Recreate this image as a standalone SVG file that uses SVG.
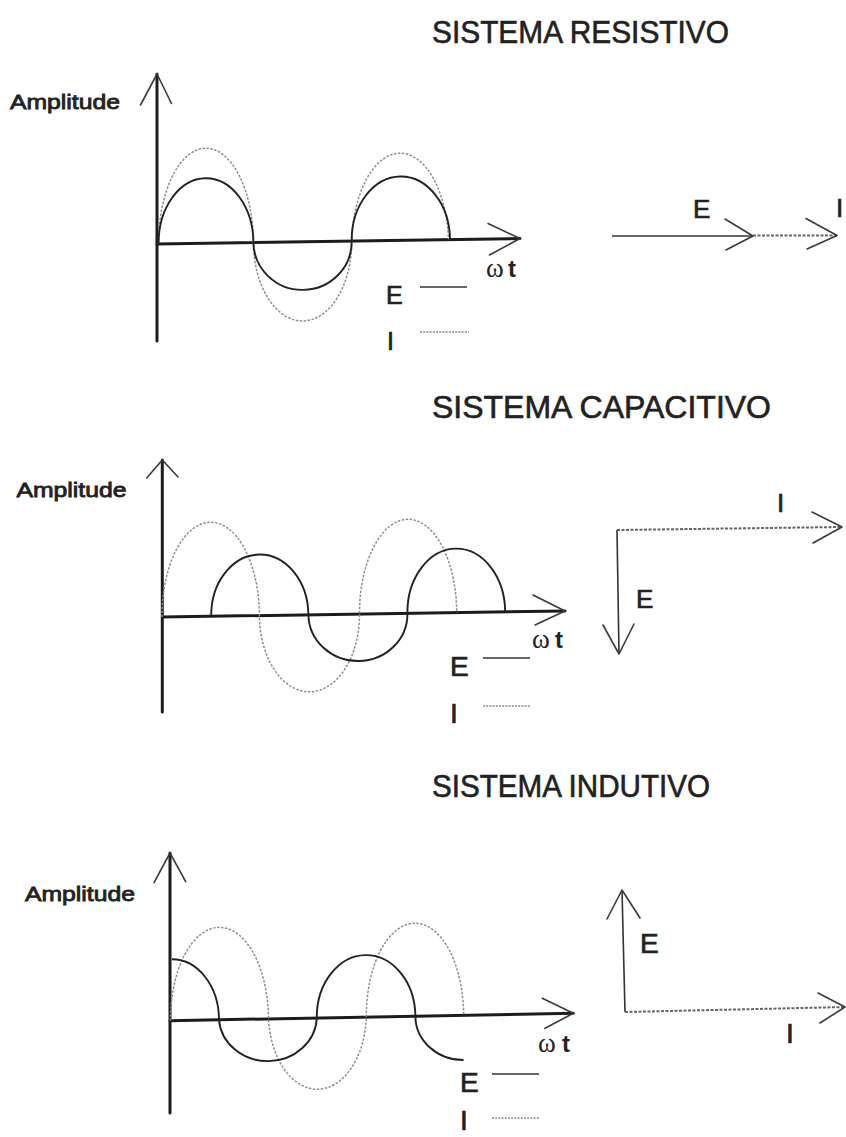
<svg xmlns="http://www.w3.org/2000/svg" width="846" height="1137" viewBox="0 0 846 1137">
<style>
.bg{fill:#ffffff}
.axis{stroke:#1c1c1c;stroke-width:3;fill:none;stroke-linecap:round}
.head{stroke:#3a3a3a;stroke-width:1.6;fill:none;stroke-linecap:round;stroke-linejoin:round}
.e{stroke:#222;stroke-width:1.9;fill:none}
.i{stroke:#8e8e8e;stroke-width:1.5;fill:none;stroke-dasharray:2.5 1.5}
.vec{stroke:#333;stroke-width:1.6;fill:none}
.vdot{stroke:#666;stroke-width:2;fill:none;stroke-dasharray:3 1.5}
.leg{stroke:#333;stroke-width:1.6}
.legdot{stroke:#888;stroke-width:1.6;stroke-dasharray:2 1.2}
text{font-family:"Liberation Sans",Arial,Helvetica,sans-serif;fill:#222}
.title{font-size:31px;stroke:#222;stroke-width:0.6}
.amp{font-size:20px;stroke:#222;stroke-width:0.8}
.lab{font-size:26px;stroke:#222;stroke-width:0.7}
.lab28{font-size:28px;stroke:#222;stroke-width:0.7}
.lab25{font-size:25px;stroke:#222;stroke-width:0.7}
.omega{font-family:"Liberation Serif","Times New Roman",serif;font-size:27px}
.tt{font-size:24px;font-weight:bold}
</style>
<rect class="bg" x="0" y="0" width="846" height="1137"/>

<!-- ===== SISTEMA RESISTIVO ===== -->
<g id="resistivo">
  <text id="t-res" class="title" x="432" y="43" textLength="297" lengthAdjust="spacingAndGlyphs">SISTEMA RESISTIVO</text>
  <text id="amp-res" class="amp" x="10" y="109" textLength="110" lengthAdjust="spacingAndGlyphs">Amplitude</text>
  <g id="axes-res">
    <line class="axis" x1="157" y1="74" x2="157" y2="341"/>
    <polyline class="head" points="140.5,105 157,74 171.5,103.5"/>
    <line class="axis" x1="157" y1="244" x2="520" y2="238.5"/>
    <polyline class="head" points="488,223.5 520,238.5 489.5,255"/>
  </g>
  <path id="i-res" class="i" d="M158.6,244 A47.4,95 0 0 1 253.4,242.5 A49,79 0 0 0 351.7,241 A48.5,93 0 0 1 448.5,239.5"/>
  <path id="e-res" class="e" d="M158.6,244 A47.4,65 0 0 1 253.4,242.5 A49,48 0 0 0 351.7,241 A49,63.5 0 0 1 450,239.4"/>
  <text class="omega" x="486" y="277">ω</text>
  <text class="tt" x="508" y="277">t</text>
  <g id="legend-res">
    <text class="lab25" x="386" y="304">E</text>
    <line class="leg" x1="420" y1="287" x2="467" y2="287"/>
    <text class="lab25" x="387" y="350">I</text>
    <line class="legdot" x1="420" y1="332" x2="469" y2="332"/>
  </g>
  <g id="phasor-res">
    <line class="vec" x1="612" y1="236" x2="753" y2="236"/>
    <polyline class="head" points="725,219 753,236 726,250"/>
    <line class="vdot" x1="753" y1="235.5" x2="837" y2="235.5"/>
    <polyline class="head" points="806,218.5 837,235.5 807,249"/>
    <text class="lab" x="693" y="218">E</text>
    <text class="lab" x="836" y="217">I</text>
  </g>
</g>

<!-- ===== SISTEMA CAPACITIVO ===== -->
<g id="capacitivo">
  <text id="t-cap" class="title" x="432" y="418" textLength="339" lengthAdjust="spacingAndGlyphs">SISTEMA  CAPACITIVO</text>
  <text id="amp-cap" class="amp" x="16.5" y="497" textLength="110" lengthAdjust="spacingAndGlyphs">Amplitude</text>
  <g id="axes-cap">
    <line class="axis" x1="162.3" y1="460" x2="162.3" y2="712"/>
    <polyline class="head" points="146.7,478 162.3,460 178,477"/>
    <line class="axis" x1="162.3" y1="617" x2="565" y2="611"/>
    <polyline class="head" points="533,595 565,611 535,625"/>
  </g>
  <path id="i-cap" class="i" d="M162,617 A48.7,94 0 0 1 259.4,615.5 A50,77 0 0 0 359.5,614 A48.6,94 0 0 1 456.7,612.6"/>
  <path id="e-cap" class="e" d="M211.2,616.3 A48.6,61 0 0 1 308.4,614.8 A49.5,47 0 0 0 407.4,613.3 A48.9,64 0 0 1 505.2,611.9"/>
  <text class="omega" x="532" y="648">ω</text>
  <text class="tt" x="555" y="648">t</text>
  <g id="legend-cap">
    <text class="lab28" x="450" y="676">E</text>
    <line class="leg" x1="483" y1="658" x2="530" y2="658"/>
    <text class="lab28" x="450" y="723">I</text>
    <line class="legdot" x1="483" y1="706" x2="531" y2="706"/>
  </g>
  <g id="phasor-cap">
    <line class="vdot" x1="617" y1="530" x2="842" y2="527"/>
    <polyline class="head" points="812,512 842,527 813,543"/>
    <line class="vec" x1="617" y1="530" x2="619" y2="654"/>
    <polyline class="head" points="603,625 619,654 634,624"/>
    <text class="lab" x="777" y="512">I</text>
    <text class="lab" x="636" y="608">E</text>
  </g>
</g>

<!-- ===== SISTEMA INDUTIVO ===== -->
<g id="indutivo">
  <text id="t-ind" class="title" x="432" y="797" textLength="278" lengthAdjust="spacingAndGlyphs">SISTEMA INDUTIVO</text>
  <text id="amp-ind" class="amp" x="25" y="901" textLength="110" lengthAdjust="spacingAndGlyphs">Amplitude</text>
  <g id="axes-ind">
    <line class="axis" x1="170" y1="853" x2="170" y2="1113"/>
    <polyline class="head" points="154,882.7 170,853 185.7,881.7"/>
    <line class="axis" x1="170" y1="1020.7" x2="573.3" y2="1013.3"/>
    <polyline class="head" points="542.3,998.3 573.3,1013.3 545,1028.3"/>
  </g>
  <path id="i-ind" class="i" d="M170.5,1020.7 A49,92.5 0 0 1 268.5,1018.9 A49,76 0 0 0 366.3,1017.1 A48.7,93 0 0 1 463.7,1015.3"/>
  <path id="e-ind" class="e" d="M171.9,959.3 A47,60.5 0 0 1 219,1019.8 A49,45 0 0 0 316.8,1018 A49.3,62 0 0 1 415.4,1016.2 A48,44 0 0 0 463.5,1060"/>
  <text class="omega" x="538" y="1052">ω</text>
  <text class="tt" x="562" y="1052">t</text>
  <g id="legend-ind">
    <text class="lab28" x="460" y="1092">E</text>
    <line class="leg" x1="492" y1="1074" x2="539" y2="1074"/>
    <text class="lab28" x="460" y="1130">I</text>
    <line class="legdot" x1="492" y1="1118" x2="540" y2="1118"/>
  </g>
  <g id="phasor-ind">
    <line class="vec" x1="625" y1="1012" x2="622" y2="890"/>
    <polyline class="head" points="607,919 622,890 640,918"/>
    <line class="vdot" x1="625" y1="1012" x2="845" y2="1007"/>
    <polyline class="head" points="818,993 845,1007 820,1023"/>
    <text class="lab28" x="640" y="953">E</text>
    <text class="lab28" x="786" y="1043">I</text>
  </g>
</g>
</svg>
